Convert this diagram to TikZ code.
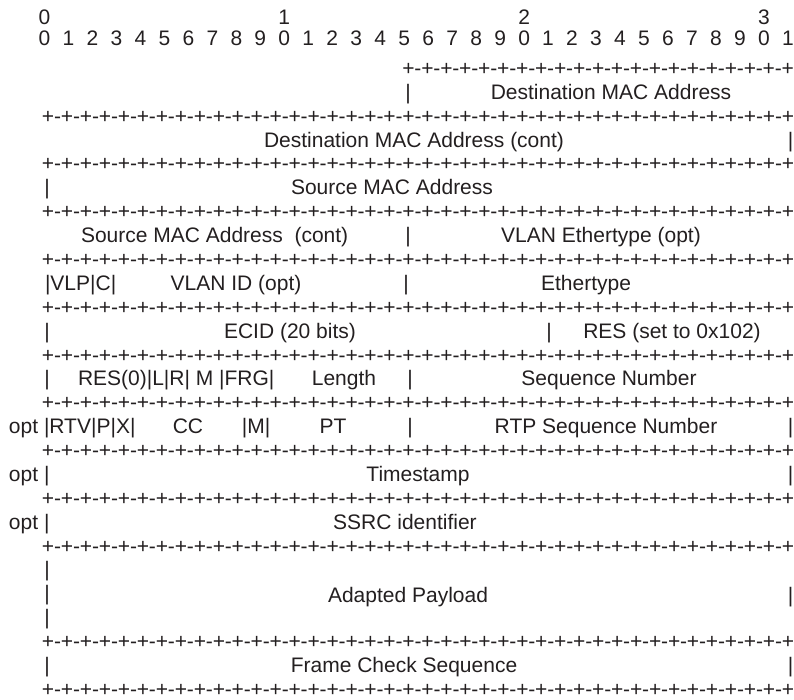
\documentclass[tikz,border=0pt]{standalone}
\usepackage{fontspec}
\setmainfont{Liberation Sans}
\definecolor{ink}{RGB}{35,31,32}
\newcommand\pl{\makebox[12.26pt][c]{+}}
\newcommand\mi{\makebox[6.71pt][c]{-}}
\newcommand\rulerstr[1]{\foreach \i in {1,...,#1}{\pl\mi}\pl}
\begin{document}
\begin{tikzpicture}[x=1pt,y=-1pt,
  every node/.style={inner sep=0pt, outer sep=0pt, text=ink, font=\fontsize{21}{25}\selectfont},
  ct/.style={anchor=base},
  lt/.style={anchor=base west}]
\useasboundingbox (0,0) rectangle (794,700);
% bit ruler digits
\foreach \k/\d in {0/0,10/1,20/2,30/3}{\node[ct] (t\k) at ({44.5+23.98*\k},25) {\d};}
\foreach \k in {0,...,31}{\pgfmathtruncatemacro\dd{mod(\k,10)}\node[ct] (d\k) at ({44.5+23.98*\k},46) {\dd};}
% separator lines
\node[lt] (r0) at (402.3,75.5) {\rulerstr{20}};
\foreach \n/\yb in {1/123.3,2/171,3/218.8,4/266.5,5/314.3,6/362,7/409.8,8/457.5,9/505.3,10/553,11/648.5,12/696.3}{
  \node[lt] (r\n) at (42,\yb) {\rulerstr{39}};}
% row 1
\node[ct] (b1) at (408,99.4) {|};
\node[ct] (dst) at (611,99.4) {Destination MAC Address};
% row 2
\node[ct] (dstc) at (414,147.1) {Destination MAC Address (cont)};
\node[ct] (b2r) at (790.5,147.1) {|};
% row 3
\node[ct] (b3) at (47,194.9) {|};
\node[ct] (src) at (392,194.9) {Source MAC Address};
% row 4
\node[lt] (srcc) at (81,242.6) {Source MAC Address\ \ (cont)};
\node[ct] (b4) at (408,242.6) {|};
\node[ct] (vet) at (601,242.6) {VLAN Ethertype (opt)};
% row 5
\node[lt] (vlp) at (45,290.4) {|VLP|C|};
\node[ct] (vid) at (236,290.4) {VLAN ID (opt)};
\node[ct] (b5) at (406,290.4) {|};
\node[ct] (et) at (586,290.4) {Ethertype};
% row 6
\node[ct] (b6) at (47,338.1) {|};
\node[ct] (ecid) at (290,338.1) {ECID (20 bits)};
\node[ct] (b6m) at (549,338.1) {|};
\node[ct] (res) at (672,338.1) {RES (set to 0x102)};
% row 7
\node[ct] (b7) at (47,385.9) {|};
\node[lt] (flags) at (78,385.9) {RES(0)|L|R| M |FRG|};
\node[ct] (len) at (344,385.9) {Length};
\node[ct] (b7m) at (410,385.9) {|};
\node[ct] (seq) at (609,385.9) {Sequence Number};
% row 8
\node[lt] (opt8) at (9,433.6) {opt};
\node[lt] (rtv) at (44,433.6) {|RTV|P|X|};
\node[ct] (cc) at (188,433.6) {CC};
\node[ct] (mm) at (256,433.6) {|M|};
\node[ct] (pt) at (333,433.6) {PT};
\node[ct] (b8m) at (410,433.6) {|};
\node[ct] (rtpseq) at (606,433.6) {RTP Sequence Number};
\node[ct] (b8r) at (790.5,433.6) {|};
% row 9
\node[lt] (opt9) at (9,481.4) {opt |};
\node[ct] (ts) at (418,481.4) {Timestamp};
\node[ct] (b9r) at (790.5,481.4) {|};
% row 10
\node[lt] (opt10) at (9,529.1) {opt |};
\node[ct] (ssrc) at (405,529.1) {SSRC identifier};
% payload
\node[ct] (p1) at (47,576.5) {|};
\node[ct] (p2) at (47,600.5) {|};
\node[ct] (p3) at (47,624.5) {|};
\node[ct] (pay) at (408,602.4) {Adapted Payload};
\node[ct] (p2r) at (790.5,602.4) {|};
% FCS
\node[ct] (b12) at (47,672.4) {|};
\node[ct] (fcs) at (404,672.4) {Frame Check Sequence};
\node[ct] (b12r) at (790.5,672.4) {|};
\end{tikzpicture}
\end{document}
